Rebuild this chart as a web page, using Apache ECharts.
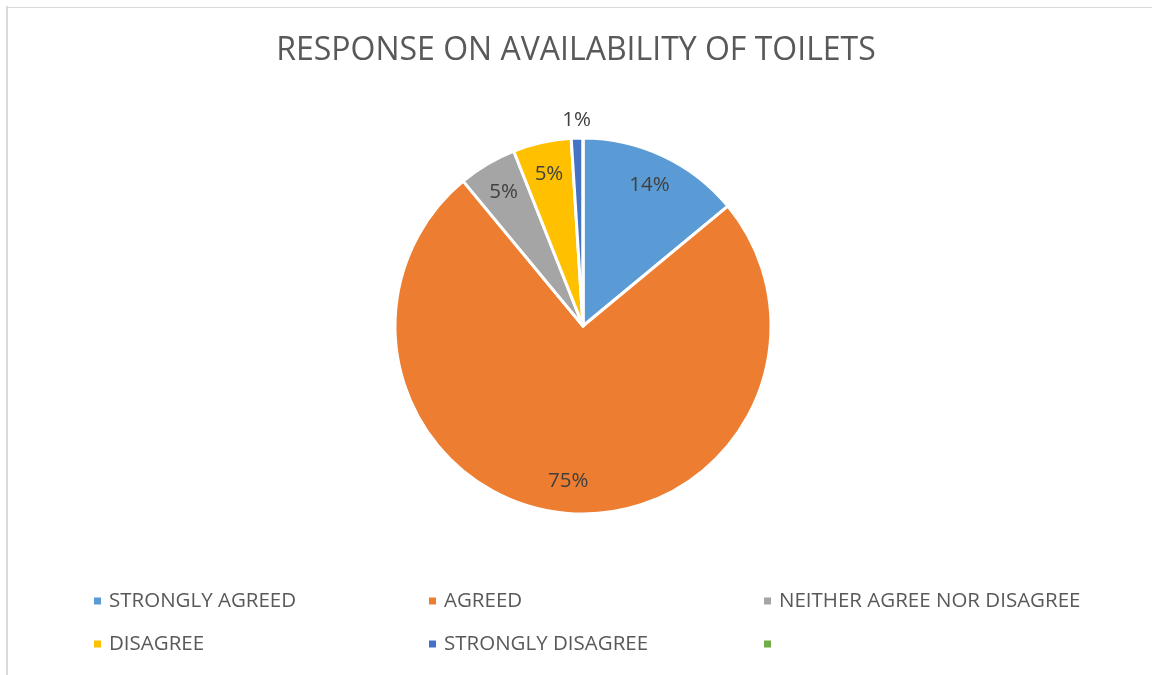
<!DOCTYPE html>
<html>
<head>
<meta charset="utf-8">
<script src="https://cdn.jsdelivr.net/npm/echarts@6/dist/echarts.min.js"></script>
<style>html,body{margin:0;padding:0;background:#fff}#c{width:1152px;height:675px}</style>
</head>
<body>
<div id="c"></div>
<script>
const titleText = 'RESPONSE ON AVAILABILITY OF TOILETS';
const categories = ['STRONGLY AGREED', 'AGREED', 'NEITHER AGREE NOR DISAGREE', 'DISAGREE', 'STRONGLY DISAGREE', ' '];
const values = [14, 75, 5, 5, 1, 0];
const colors = ['#5b9bd5', '#ed7d31', '#a5a5a5', '#ffc000', '#4472c4', '#70ad47'];

const FONT = 'Open Sans';
const total = values.reduce((a, b) => a + b, 0);
const pct = v => Math.round(v / total * 100) + '%';

const pieData = categories.map((n, i) => ({ name: n, value: values[i], itemStyle: { color: colors[i] } }));
const labelData = categories.map((n, i) => ({ name: n, value: values[i], itemStyle: { color: 'rgba(0,0,0,0)', borderWidth: 0 } }));

const center = [583, 326];
const legendLefts = [92, 427, 762];
const legends = legendLefts.map((x, col) => ({
  orient: 'vertical',
  left: x,
  top: 590,
  padding: 0,
  itemGap: 21,
  itemWidth: 9,
  itemHeight: 9,
  icon: 'rect',
  selectedMode: false,
  data: [categories[col], categories[col + 3]],
  textStyle: { fontFamily: FONT, fontSize: 20.5, color: '#595959', lineHeight: 22, padding: [0, 0, 0, 2] }
}));

const chart = echarts.init(document.getElementById('c'), null, { renderer: 'canvas' });
chart.setOption({
  animation: false,
  color: colors,
  title: {
    text: titleText,
    left: 'center',
    top: 31,
    padding: 0,
    textStyle: { fontFamily: FONT, fontSize: 32, fontWeight: 'normal', color: '#595959', lineHeight: 40 }
  },
  legend: legends,
  graphic: [
    { type: 'line', shape: { x1: 7, y1: 6, x2: 7, y2: 700 }, style: { stroke: '#d9d9d9', lineWidth: 2 }, silent: true },
    { type: 'line', shape: { x1: 6, y1: 7.5, x2: 1200, y2: 7.5 }, style: { stroke: '#d9d9d9', lineWidth: 1 }, silent: true }
  ],
  series: [
    {
      type: 'pie',
      center: center,
      radius: [0, 188],
      startAngle: 90,
      clockwise: true,
      silent: true,
      emphasis: { disabled: true },
      itemStyle: { borderColor: '#fff', borderWidth: 3 },
      label: { show: false },
      labelLine: { show: false },
      data: pieData
    },
    {
      type: 'pie',
      center: center,
      radius: [118, 188],
      startAngle: 90,
      clockwise: true,
      silent: true,
      avoidLabelOverlap: false,
      emphasis: { disabled: true },
      label: {
        show: true, position: 'inside',
        fontFamily: FONT, fontSize: 20.5, color: '#404040',
        formatter: p => (p.value >= 2 ? pct(p.value) : '')
      },
      labelLine: { show: false },
      data: labelData
    },
    {
      type: 'pie',
      center: center,
      radius: [194, 212],
      startAngle: 90,
      clockwise: true,
      silent: true,
      avoidLabelOverlap: false,
      emphasis: { disabled: true },
      label: {
        show: true, position: 'inside',
        fontFamily: FONT, fontSize: 20.5, color: '#404040',
        formatter: p => (p.value > 0 && p.value < 2 ? pct(p.value) : '')
      },
      labelLine: { show: false },
      data: labelData
    }
  ]
});
</script>
</body>
</html>
